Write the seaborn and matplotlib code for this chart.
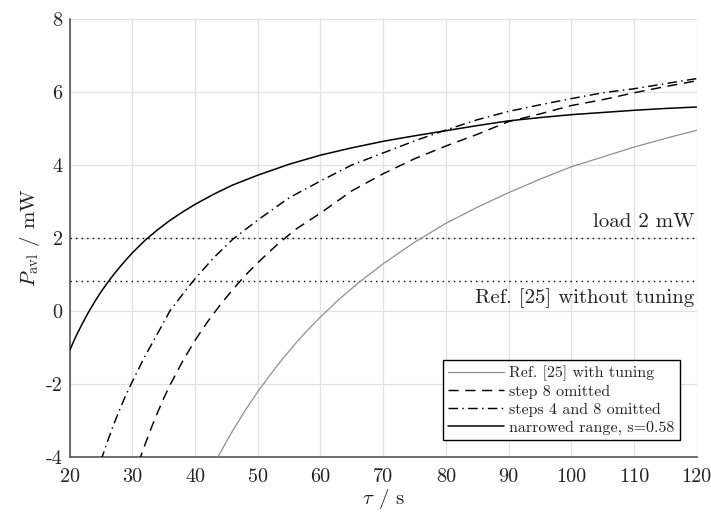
import matplotlib
matplotlib.use("Agg")
import matplotlib.pyplot as plt
import seaborn as sns
import pandas as pd

# Available power P_avl (mW) over cycle time tau (s)
tau_ref_tuned = [43, 44, 45, 46, 47, 48, 50, 52, 54, 56, 58, 60, 63, 66, 70, 75, 80, 85, 90,
                 95, 100, 105, 110, 115, 120]
p_ref_tuned = [-4.22, -3.90, -3.59, -3.29, -3.01, -2.73, -2.22, -1.75, -1.31, -0.90, -0.52,
               -0.17, 0.32, 0.76, 1.29, 1.88, 2.40, 2.84, 3.24, 3.61, 3.95, 4.22, 4.49, 4.73,
               4.95]

tau_step8 = [31, 32, 33, 34, 35, 36, 38, 40, 42, 44, 46, 48, 50, 53, 56, 60, 65, 70, 75, 80,
             85, 90, 95, 100, 105, 110, 115, 120]
p_step8 = [-4.15, -3.68, -3.22, -2.80, -2.40, -2.04, -1.39, -0.81, -0.30, 0.16, 0.58, 0.97,
           1.32, 1.80, 2.23, 2.68, 3.29, 3.76, 4.17, 4.52, 4.84, 5.19, 5.40, 5.63, 5.79, 5.98,
           6.15, 6.31]

tau_step48 = [25, 26, 27, 28, 29, 30, 32, 34, 36, 38, 40, 43, 46, 50, 55, 60, 65, 70, 75, 80,
              85, 90, 95, 100, 105, 110, 115, 120]
p_step48 = [-4.10, -3.60, -3.13, -2.70, -2.30, -1.94, -1.25, -0.63, 0.00, 0.45, 0.88, 1.46,
            1.96, 2.49, 3.10, 3.56, 4.00, 4.33, 4.66, 4.96, 5.24, 5.47, 5.65, 5.82, 5.98, 6.09,
            6.23, 6.37]

tau_narrow = [20, 21, 22, 23, 24, 25, 26, 27, 28, 29, 30, 32, 34, 36, 38, 40, 43, 46, 50, 55,
              60, 65, 70, 75, 80, 85, 90, 95, 100, 105, 110, 115, 120]
p_narrow = [-1.09, -0.70, -0.36, -0.04, 0.25, 0.52, 0.76, 0.99, 1.20, 1.40, 1.59, 1.93, 2.22,
            2.48, 2.71, 2.92, 3.20, 3.45, 3.72, 4.02, 4.27, 4.47, 4.65, 4.80, 4.94, 5.08, 5.21,
            5.30, 5.38, 5.44, 5.50, 5.55, 5.59]

series_labels = ["Ref. [25] with tuning", "step 8 omitted",
                 "steps 4 and 8 omitted", "narrowed range, s=0.58"]

# Reference power levels (mW)
load_level = 2.0
ref_untuned_level = 0.83

x_ticks = [20, 30, 40, 50, 60, 70, 80, 90, 100, 110, 120]
y_ticks = [-4, -2, 0, 2, 4, 6, 8]

sns.set_style("whitegrid")
plt.rcParams["font.family"] = ["cmr10", "DejaVu Serif"]
plt.rcParams["mathtext.fontset"] = "cm"
plt.rcParams["axes.unicode_minus"] = False

fig = plt.figure(figsize=(7.11, 5.13), dpi=100)
ax = fig.add_axes([0.0979, 0.1097, 0.8819, 0.853])

frames = []
for lab, t, p in zip(series_labels,
                     [tau_ref_tuned, tau_step8, tau_step48, tau_narrow],
                     [p_ref_tuned, p_step8, p_step48, p_narrow]):
    frames.append(pd.DataFrame({"tau": t, "P": p, "series": lab}))
df = pd.concat(frames, ignore_index=True)

styles = {
    series_labels[0]: dict(color="#8a8a8a", lw=0.85, ls="-"),
    series_labels[1]: dict(color="black", lw=1.05, ls=(0, (7, 4.5))),
    series_labels[2]: dict(color="black", lw=1.05, ls=(0, (6.5, 3, 1, 3))),
    series_labels[3]: dict(color="black", lw=1.1, ls="-"),
}

# Horizontal reference levels
ax.axhline(load_level, color="black", lw=1.0, ls=(0, (1, 3)), zorder=2)
ax.axhline(ref_untuned_level, color="black", lw=1.0, ls=(0, (1, 3)), zorder=2)

for lab in series_labels:
    sub = df[df["series"] == lab]
    st = styles[lab]
    sns.lineplot(data=sub, x="tau", y="P", ax=ax, color=st["color"], lw=st["lw"],
                 linestyle=st["ls"], label=lab, zorder=3)

ax.set_xlim(20, 120)
ax.set_ylim(-4, 8)
ax.set_xticks(x_ticks)
ax.set_xticklabels([str(v) for v in x_ticks])
ax.set_yticks(y_ticks)
ax.set_yticklabels([str(v) for v in y_ticks])

ax.grid(True, color="#e1e1e1", lw=0.9)
for side in ["top", "right"]:
    ax.spines[side].set_visible(False)
for side in ["left", "bottom"]:
    ax.spines[side].set_visible(True)
    ax.spines[side].set_color("#555555")
    ax.spines[side].set_linewidth(1.2)

ax.tick_params(axis="both", direction="in", length=4, width=1.0, colors="#555555",
               labelcolor="#222222", labelsize=14.5)
ax.tick_params(axis="x", pad=8)
ax.tick_params(axis="y", pad=5)

ax.set_xlabel(r"$\tau$ / s", fontsize=15, color="#222222", labelpad=1)
ax.set_ylabel(r"$P_\mathrm{avl}$ / mW", fontsize=15, color="#222222", labelpad=3)

ax.text(119.6, load_level + 0.18, "load 2 mW", ha="right", va="bottom",
        fontsize=15, color="#222222")
ax.text(119.6, ref_untuned_level - 0.2, "Ref. [25] without tuning", ha="right", va="top",
        fontsize=15, color="#222222")

leg = ax.legend(loc="lower right", bbox_to_anchor=(0.9735, 0.038), borderaxespad=0,
                fontsize=11.5, frameon=True, fancybox=False, handlelength=3.5,
                handletextpad=0.3, labelspacing=0.22, borderpad=0.35)
leg.get_frame().set_edgecolor("black")
leg.get_frame().set_linewidth(1.0)
leg.get_frame().set_alpha(1)
for t in leg.get_texts():
    t.set_color("#222222")

fig.savefig("out.png", dpi=100)
